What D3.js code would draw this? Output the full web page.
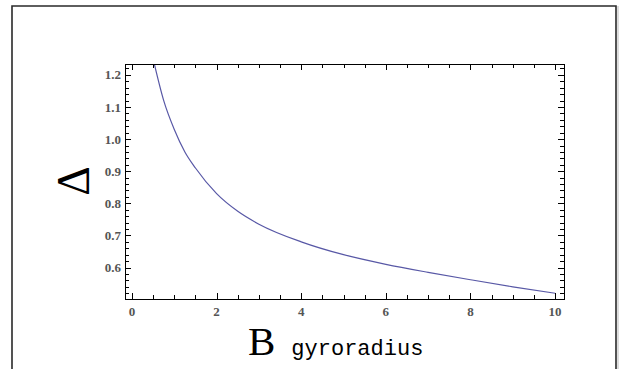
<!DOCTYPE html>
<html>
<head>
<meta charset="utf-8">
<script src="https://cdn.jsdelivr.net/npm/d3@7"></script>
<style>
  body { margin: 0; background: #fff; }
  svg { display: block; }
</style>
</head>
<body>
<svg id="chart"></svg>
<script>
// values
var xVals = [0.5, 0.75, 1, 1.25, 1.5, 2, 2.5, 3, 4, 5, 6, 7, 8, 9, 10];
var yVals = [1.25, 1.12, 1.03, 0.96, 0.91, 0.83, 0.775, 0.735, 0.68, 0.64, 0.61, 0.585, 0.562, 0.54, 0.52];
var xTicks = [0, 2, 4, 6, 8, 10];
var yTicks = [0.6, 0.7, 0.8, 0.9, 1.0, 1.1, 1.2];

var width = 620, height = 369;
var svg = d3.select('#chart').attr('width', width).attr('height', height);

// outer frame (no bottom edge)
svg.append('path')
  .attr('d', 'M12,369 L12,6 L616,6 L616,369')
  .attr('fill', 'none')
  .attr('stroke', '#2a2a2a')
  .attr('stroke-width', 1.6);
svg.append('line')
  .attr('x1', 618).attr('x2', 618).attr('y1', 6).attr('y2', 369)
  .attr('stroke', '#bbb').attr('stroke-width', 1);

// plot frame box (note: "top" is reserved on window)
var pL = 125, pR = 564, pT = 64, pB = 299;
var x = d3.scaleLinear().domain([-0.165, 10.21]).range([pL, pR]);
var y = d3.scaleLinear().domain([0.502, 1.234]).range([pB, pT]);

var minorX = d3.range(0, 10.01, 0.5);
var minorY = d3.range(0.52, 1.231, 0.02);

var g = svg.append('g');

// clip curve to frame
svg.append('clipPath').attr('id', 'clip')
  .append('rect').attr('x', pL).attr('y', pT)
  .attr('width', pR - pL).attr('height', pB - pT);

var pts = xVals.map(function(d, i) { return [d, yVals[i]]; });
var line = d3.line()
  .x(function(d) { return x(d[0]); })
  .y(function(d) { return y(d[1]); })
  .curve(d3.curveMonotoneX);

g.append('path')
  .datum(pts)
  .attr('clip-path', 'url(#clip)')
  .attr('d', line)
  .attr('fill', 'none')
  .attr('stroke', '#5858a6')
  .attr('stroke-width', 1.2);

// ticks: inward on all four sides
function isMajorX(v) { return Math.abs(v / 2 - Math.round(v / 2)) < 1e-6; }
function isMajorY(v) { return Math.abs(v * 10 - Math.round(v * 10)) < 1e-6; }

var ticks = g.append('g').attr('stroke', '#000').attr('stroke-width', 1);
minorX.forEach(function(v) {
  var len = isMajorX(v) ? 6 : 4;
  var px = Math.round(x(v)) + 0.5;
  ticks.append('line').attr('x1', px).attr('x2', px).attr('y1', pB).attr('y2', pB - len);
  ticks.append('line').attr('x1', px).attr('x2', px).attr('y1', pT).attr('y2', pT + len);
});
minorY.forEach(function(v) {
  var len = isMajorY(v) ? 6 : 4;
  var py = Math.round(y(v)) + 0.5;
  ticks.append('line').attr('x1', pL).attr('x2', pL + len).attr('y1', py).attr('y2', py);
  ticks.append('line').attr('x1', pR).attr('x2', pR - len).attr('y1', py).attr('y2', py);
});

// frame
g.append('rect')
  .attr('x', pL + 0.5).attr('y', pT + 0.5)
  .attr('width', pR - pL).attr('height', pB - pT)
  .attr('fill', 'none').attr('stroke', '#000').attr('stroke-width', 1);

// tick labels
g.selectAll('.xl').data(xTicks).enter().append('text')
  .attr('x', function(d) { return x(d); })
  .attr('y', 316)
  .attr('text-anchor', 'middle')
  .attr('font-family', 'Liberation Serif, serif')
  .attr('font-weight', 'bold')
  .attr('font-size', 13)
  .attr('fill', '#555')
  .text(function(d) { return d; });

g.selectAll('.yl').data(yTicks).enter().append('text')
  .attr('x', pL - 4)
  .attr('y', function(d) { return y(d) + 4.5; })
  .attr('text-anchor', 'end')
  .attr('font-family', 'Liberation Serif, serif')
  .attr('font-weight', 'bold')
  .attr('font-size', 13)
  .attr('fill', '#555')
  .text(function(d) { return d.toFixed(1); });

// axis labels
svg.append('text')
  .attr('transform', 'translate(89,181) rotate(-90)')
  .attr('text-anchor', 'middle')
  .attr('font-family', 'Liberation Serif, serif')
  .attr('font-size', 46)
  .attr('fill', '#000')
  .text('\u0394');

var xl = svg.append('text')
  .attr('x', 248).attr('y', 355)
  .attr('fill', '#000');
xl.append('tspan')
  .attr('font-family', 'Liberation Serif, serif')
  .attr('font-size', 41)
  .text('B');
xl.append('tspan')
  .attr('dx', 16)
  .attr('font-family', 'Liberation Mono, monospace')
  .attr('font-size', 22)
  .text('gyroradius');
</script>
</body>
</html>
